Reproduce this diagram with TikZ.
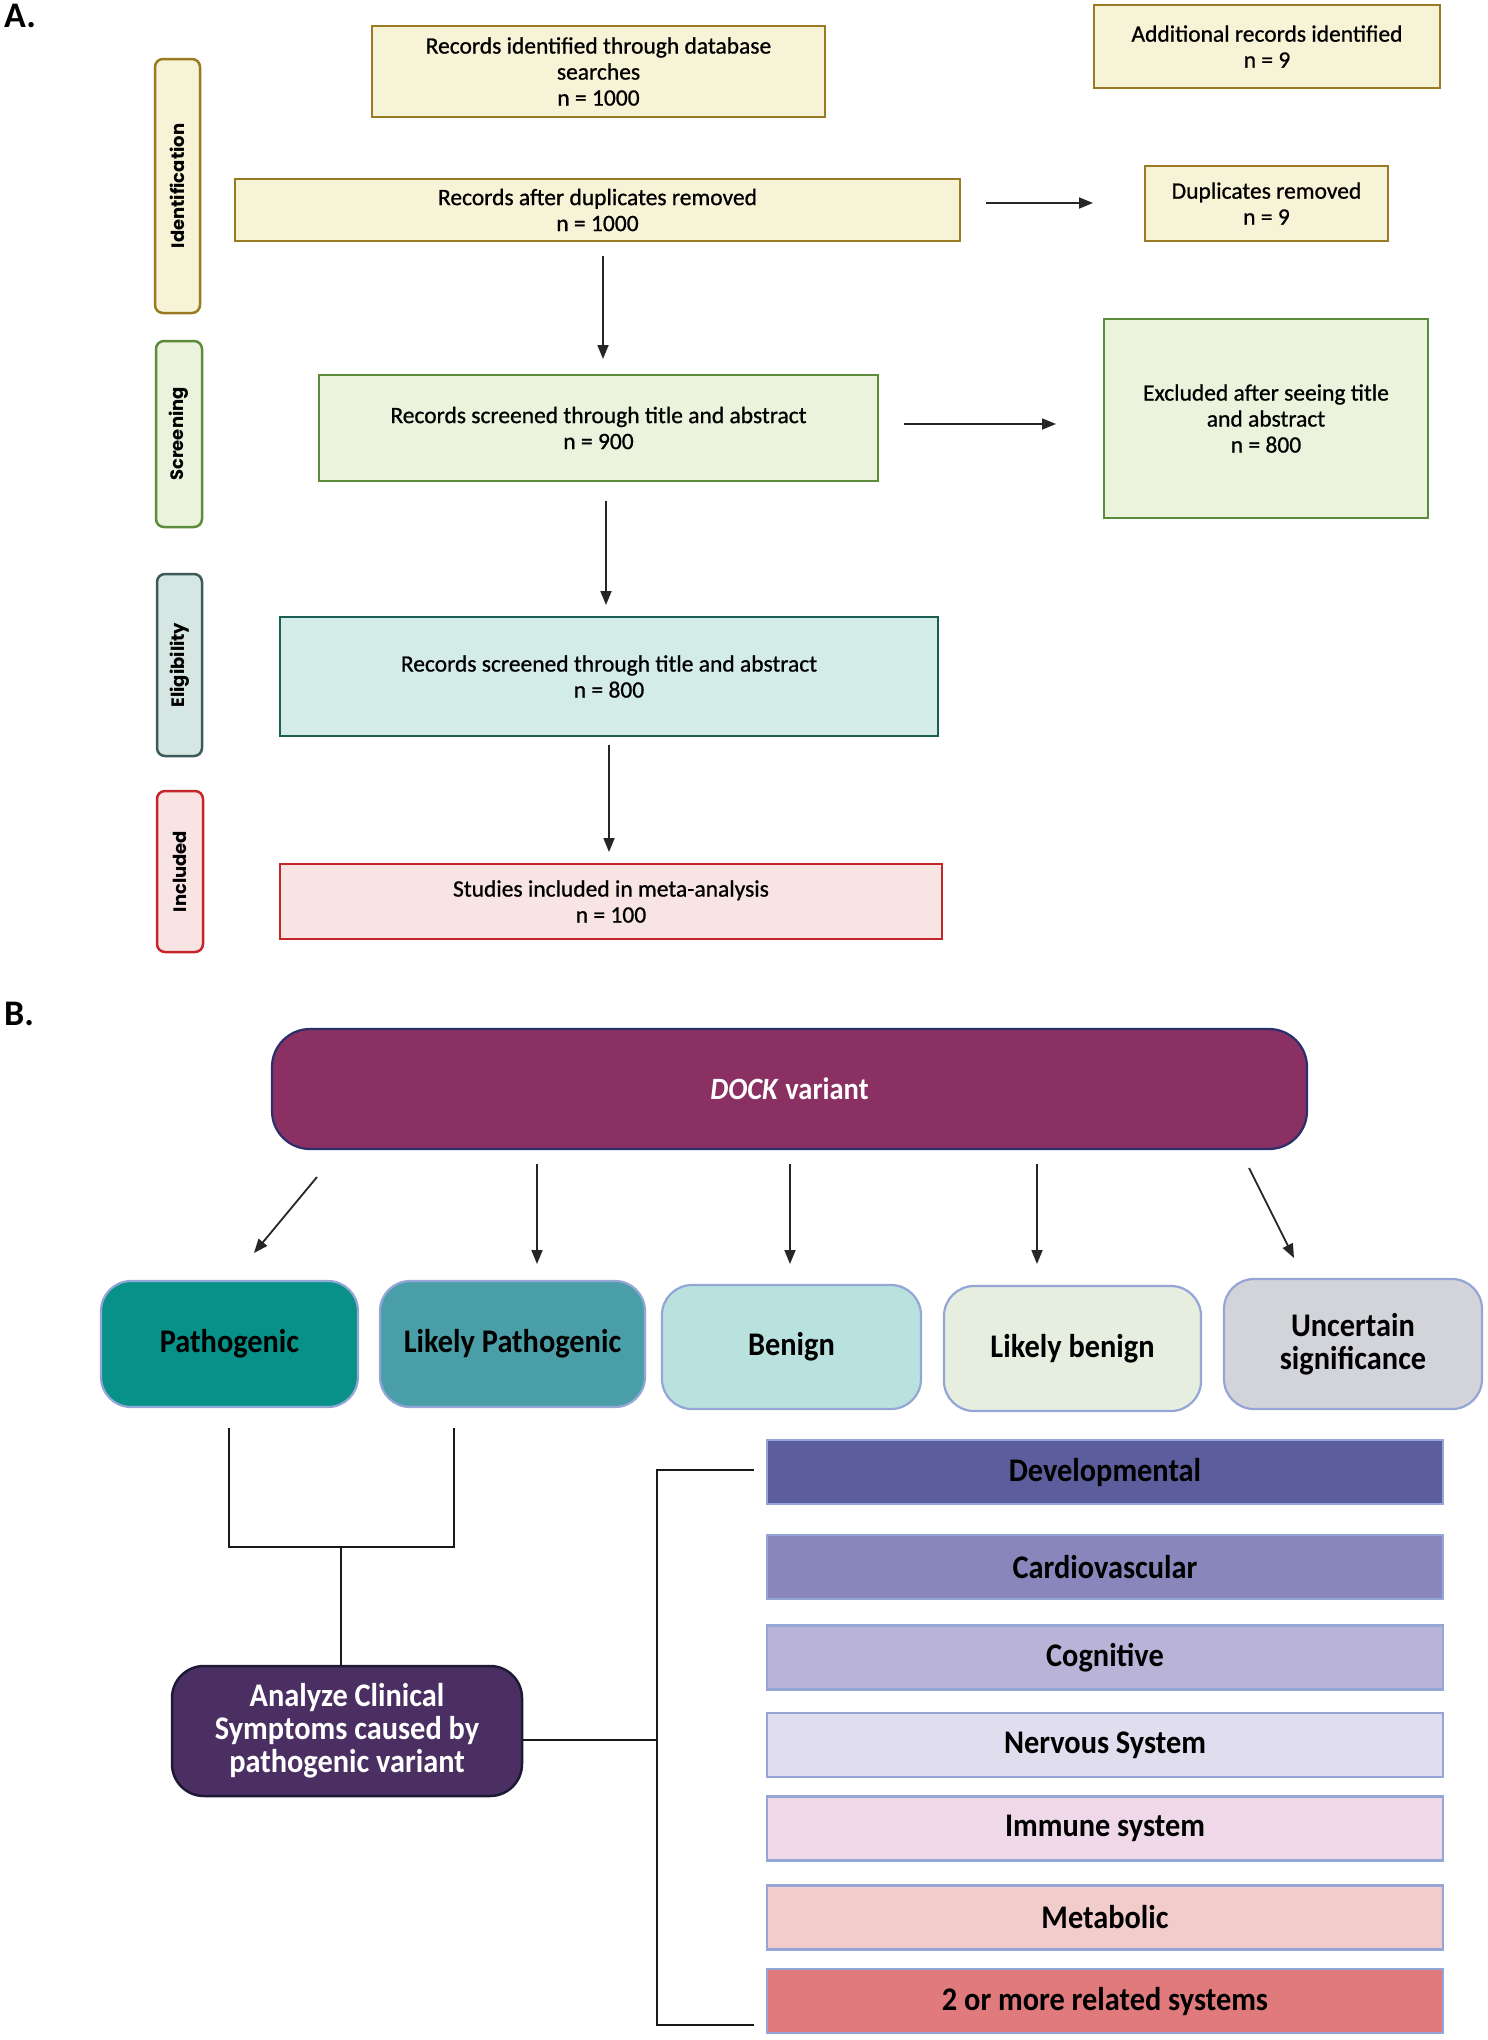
\documentclass[tikz,border=0pt]{standalone}
\usepackage{fontspec}
\setmainfont{Carlito}
\newfontfamily\sidefont{Poppins}
\newfontfamily\afont{Carlito}[FakeBold=0.8]
\newfontfamily\bfont{Carlito}[FakeStretch=0.92]
\usetikzlibrary{arrows.meta}
\definecolor{creamF}{HTML}{F6F3D6}
\definecolor{creamD}{HTML}{9A7B24}
\definecolor{greenF}{HTML}{ECF3DC}
\definecolor{greenD}{HTML}{5B8C3A}
\definecolor{tealF}{HTML}{D4ECE7}
\definecolor{tealD}{HTML}{1C5E52}
\definecolor{eliSideF}{HTML}{D6E6E3}
\definecolor{eliSideD}{HTML}{3C5A57}
\definecolor{incF}{HTML}{F8E4E3}
\definecolor{incD}{HTML}{C5262C}
\definecolor{dockF}{HTML}{8A3063}
\definecolor{dockD}{HTML}{2B2F6B}
\definecolor{peri}{HTML}{93A6D6}
\definecolor{pathF}{HTML}{079189}
\definecolor{lpathF}{HTML}{4A9EA8}
\definecolor{benF}{HTML}{B9E2DE}
\definecolor{lbenF}{HTML}{E5EEDF}
\definecolor{uncF}{HTML}{D3D4D9}
\definecolor{anF}{HTML}{4B2F63}
\definecolor{anD}{HTML}{1E1A36}
\definecolor{devF}{HTML}{5C5D9C}
\definecolor{carF}{HTML}{8886BA}
\definecolor{cogF}{HTML}{B8B3D7}
\definecolor{nerF}{HTML}{DFDDEE}
\definecolor{immF}{HTML}{EFD9E9}
\definecolor{metF}{HTML}{F2CCCB}
\definecolor{twoF}{HTML}{E07A7C}
\begin{document}
\begin{tikzpicture}[x=1pt,y=-1pt,
  pbox/.style={draw, line width=2.5pt, align=center, inner sep=0pt,
    font=\afont\fontsize{23.5}{26}\selectfont},
  sidebox/.style={draw, line width=2.5pt, rounded corners=8pt, rotate=90,
    inner sep=0pt, font=\sidefont\bfseries\fontsize{18}{20}\selectfont},
  catbox/.style={draw=peri, line width=2.2pt, rounded corners=30pt, align=center,
    inner sep=0pt, font=\bfont\bfseries\fontsize{33}{33}\selectfont},
  sysbox/.style={draw=peri, line width=2.2pt, align=center, inner sep=0pt,
    minimum width=676pt, minimum height=64pt, font=\bfont\bfseries\fontsize{33}{33}\selectfont},
  arr/.style={-{Triangle[length=14pt,width=11pt]}, line width=1.8pt, draw=black!85},
  conn/.style={line width=2.2pt, draw=black!90},
  lbl/.style={font=\bfseries\fontsize{36}{36}\selectfont, anchor=north west, inner sep=0pt}]
\useasboundingbox (0,0) rectangle (1488,2040);
\fill[white] (0,0) rectangle (1488,2040);

% ---------- Panel A ----------
\node[lbl] (la) at (4,4) {A.};

\node[sidebox, fill=creamF, draw=creamD, minimum width=254pt, minimum height=45pt] (sid) at (177.5,186) {Identification};
\node[sidebox, fill=greenF, draw=greenD, minimum width=186pt, minimum height=46pt] (sscr) at (179,434) {Screening};
\node[sidebox, fill=eliSideF, draw=eliSideD, minimum width=182pt, minimum height=45pt] (seli) at (179.5,665) {Eligibility};
\node[sidebox, fill=incF, draw=incD, minimum width=161pt, minimum height=46pt] (sinc) at (180,871.5) {Included};

\node[pbox, fill=creamF, draw=creamD, minimum width=453pt, minimum height=91pt] (b1) at (598.5,71.5)
  {Records identified through database\\searches\\n = 1000};
\node[pbox, fill=creamF, draw=creamD, minimum width=346pt, minimum height=83pt] (add) at (1267,46.5)
  {Additional records identified\\n = 9};
\node[pbox, fill=creamF, draw=creamD, minimum width=725pt, minimum height=62pt] (dup) at (597.5,210)
  {Records after duplicates removed\\n = 1000};
\node[pbox, fill=creamF, draw=creamD, minimum width=243pt, minimum height=75pt] (dupr) at (1266.5,203.5)
  {Duplicates removed\\n = 9};
\node[pbox, fill=greenF, draw=greenD, minimum width=559pt, minimum height=106pt] (scr) at (598.5,428)
  {Records screened through title and abstract\\n = 900};
\node[pbox, fill=greenF, draw=greenD, minimum width=324pt, minimum height=199pt] (exc) at (1266,418.5)
  {Excluded after seeing title\\and abstract\\n = 800};
\node[pbox, fill=tealF, draw=tealD, minimum width=658pt, minimum height=119pt] (eli) at (609,676.5)
  {Records screened through title and abstract\\n = 800};
\node[pbox, fill=incF, draw=incD, minimum width=662pt, minimum height=75pt] (inc) at (611,901.5)
  {Studies included in meta-analysis\\n = 100};

\coordinate (d1s) at (603,256); \coordinate (d1e) at (603,359);
\coordinate (h1s) at (986,203); \coordinate (h1e) at (1093,203);
\coordinate (h2s) at (904,424); \coordinate (h2e) at (1056,424);
\coordinate (d2s) at (606,501); \coordinate (d2e) at (606,605);
\coordinate (d3s) at (609,745); \coordinate (d3e) at (609,852);
\draw[arr] (d1s) -- (d1e);
\draw[arr] (h1s) -- (h1e);
\draw[arr] (h2s) -- (h2e);
\draw[arr] (d2s) -- (d2e);
\draw[arr] (d3s) -- (d3e);

% ---------- Panel B ----------
\node[lbl] (lb) at (4,1002) {B.};

\node[draw=dockD, fill=dockF, line width=2.2pt, rounded corners=38pt, minimum width=1035pt,
  minimum height=120pt, text=white, font=\bfont\bfseries\fontsize{31}{33}\selectfont] (dock) at (789.5,1089)
  {\textit{DOCK} variant};

\node[catbox, fill=pathF, minimum width=257pt, minimum height=126pt] (path) at (229.5,1344) {Pathogenic};
\node[catbox, fill=lpathF, minimum width=265pt, minimum height=126pt] (lpath) at (512.5,1344) {Likely Pathogenic};
\node[catbox, fill=benF, minimum width=259pt, minimum height=124pt] (ben) at (791.5,1347) {Benign};
\node[catbox, fill=lbenF, minimum width=257pt, minimum height=125pt] (lben) at (1072.5,1348.5) {Likely benign};
\node[catbox, fill=uncF, minimum width=258pt, minimum height=130pt] (unc) at (1353,1344) {Uncertain\\significance};

\coordinate (a1s) at (317,1177); \coordinate (a1e) at (254,1253);
\coordinate (a2s) at (537,1164); \coordinate (a2e) at (537,1264);
\coordinate (a3s) at (790,1164); \coordinate (a3e) at (790,1264);
\coordinate (a4s) at (1037,1164); \coordinate (a4e) at (1037,1264);
\coordinate (a5s) at (1249,1168); \coordinate (a5e) at (1294,1258);
\draw[arr] (a1s) -- (a1e);
\draw[arr] (a2s) -- (a2e);
\draw[arr] (a3s) -- (a3e);
\draw[arr] (a4s) -- (a4e);
\draw[arr] (a5s) -- (a5e);

\node[draw=anD, fill=anF, line width=2.5pt, rounded corners=32pt, minimum width=350pt,
  minimum height=130pt, text=white, align=center, inner sep=0pt,
  font=\bfont\bfseries\fontsize{33}{33}\selectfont] (an) at (347,1731)
  {Analyze Clinical\\Symptoms caused by\\pathogenic variant};

\coordinate (p1) at (229,1428); \coordinate (p2) at (454,1428);
\coordinate (j) at (341,1547);
\draw[conn] (p1) |- (j) -| (p2);
\draw[conn] (j) -- (an.north -| j);

\node[sysbox, fill=devF] (dev) at (1105,1472) {Developmental};
\node[sysbox, fill=carF] (car) at (1105,1567) {Cardiovascular};
\node[sysbox, fill=cogF] (cog) at (1105,1657.5) {Cognitive};
\node[sysbox, fill=nerF] (ner) at (1105,1745) {Nervous System};
\node[sysbox, fill=immF] (imm) at (1105,1828.5) {Immune system};
\node[sysbox, fill=metF] (met) at (1105,1917.5) {Metabolic};
\node[sysbox, fill=twoF] (two) at (1105,2001) {2 or more related systems};

\coordinate (bt) at (657,1470); \coordinate (bb) at (657,2025);
\coordinate (bm) at (657,1740);
\coordinate (bte) at (754,1470); \coordinate (bbe) at (754,2025);
\draw[conn] (bte) -- (bt) -- (bb) -- (bbe);
\draw[conn] (an.east |- bm) -- (bm);
\end{tikzpicture}
\end{document}
